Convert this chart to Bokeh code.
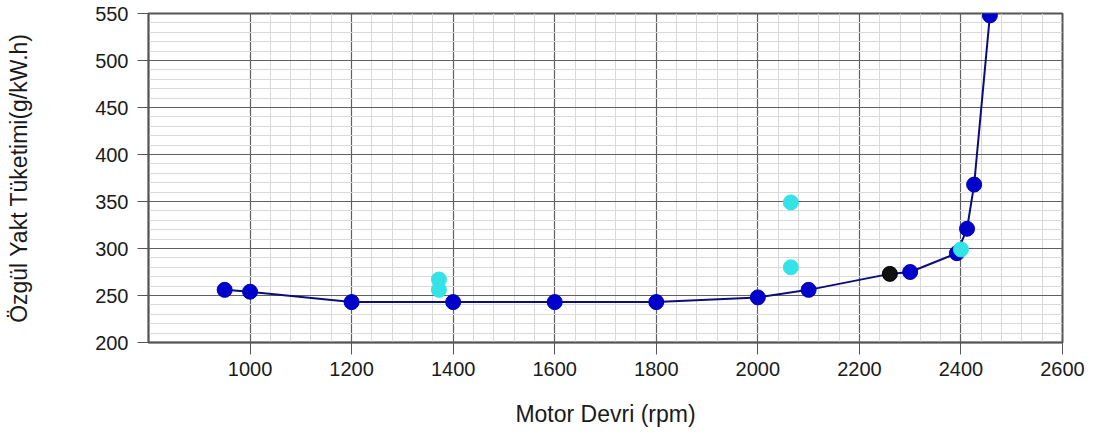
from bokeh.plotting import figure
from bokeh.models import FixedTicker, Range1d
from bokeh.embed import file_html
from bokeh.resources import INLINE

# ---- data ----
rpm_main = [950, 1000, 1200, 1400, 1600, 1800, 2000, 2100, 2260, 2300, 2392, 2412, 2426, 2457]
sfc_main = [256, 254, 243, 243, 243, 243, 248, 256, 273, 275, 295, 321, 368, 548]

rpm_blue = [950, 1000, 1200, 1400, 1600, 1800, 2000, 2100, 2300, 2392, 2412, 2426, 2457]
sfc_blue = [256, 254, 243, 243, 243, 243, 248, 256, 275, 295, 321, 368, 548]

rpm_black = [2260]
sfc_black = [273]

rpm_cyan = [1372, 1372, 2065, 2065, 2400]
sfc_cyan = [267, 256, 349, 280, 299]

x_ticks = [1000, 1200, 1400, 1600, 1800, 2000, 2200, 2400, 2600]
y_ticks = [200, 250, 300, 350, 400, 450, 500, 550]

x_label = "Motor Devri (rpm)"
y_label = "Özgül Yakt Tüketimi(g/kW.h)"

# ---- figure ----
FONT = "Liberation Sans"
p = figure(frame_width=914, frame_height=329,
           x_range=Range1d(800, 2600), y_range=Range1d(200, 550),
           output_backend="svg", toolbar_location=None,
           min_border_left=148, min_border_right=27,
           min_border_top=13, min_border_bottom=80)
p.background_fill_color = "white"
p.border_fill_color = "white"
p.outline_line_color = "#555555"
p.outline_line_width = 2

x_minor = [v for v in range(x_ticks[0], x_ticks[-1], 40) if v not in x_ticks]
y_minor = [v for v in range(y_ticks[0], y_ticks[-1], 10) if v not in y_ticks]
p.xaxis.ticker = FixedTicker(ticks=x_ticks, minor_ticks=x_minor)
p.yaxis.ticker = FixedTicker(ticks=y_ticks, minor_ticks=y_minor)

for g in (p.xgrid, p.ygrid):
    g.grid_line_color = "#606060"
    g.grid_line_width = 1.2
    g.minor_grid_line_color = "#d9d9d9"
    g.minor_grid_line_width = 1

for ax in (p.xaxis, p.yaxis):
    ax.axis_line_color = "#555555"
    ax.axis_line_width = 1.5
    ax.major_tick_line_color = "#555555"
    ax.major_tick_line_width = 1
    ax.major_tick_in = 0
    ax.minor_tick_line_color = None
    ax.major_label_text_font = FONT
    ax.major_label_text_font_size = "20px"
    ax.major_label_text_color = "#1a1a1a"
    ax.axis_label_text_font = FONT
    ax.axis_label_text_font_size = "23px"
    ax.axis_label_text_font_style = "normal"
    ax.axis_label_text_color = "#1a1a1a"

p.xaxis.major_tick_out = 12
p.xaxis.major_label_standoff = 7
p.xaxis.axis_label_standoff = 22
p.yaxis.major_tick_out = 11
p.yaxis.major_label_standoff = 9
p.yaxis.axis_label_standoff = 60

p.xaxis.axis_label = x_label
p.yaxis.axis_label = y_label

# ---- glyphs ----
p.line(rpm_main, sfc_main, line_color="#0c0c7a", line_width=2)
p.scatter(rpm_blue, sfc_blue, size=15, marker="circle",
          fill_color="#0000cc", line_color="#0000b0")
p.scatter(rpm_black, sfc_black, size=15, marker="circle",
          fill_color="#111111", line_color="#000000")
p.scatter(rpm_cyan, sfc_cyan, size=15, marker="circle",
          fill_color="#33e3e6", line_color="#33e3e6")

open("out.html", "w").write(file_html(p, INLINE))
